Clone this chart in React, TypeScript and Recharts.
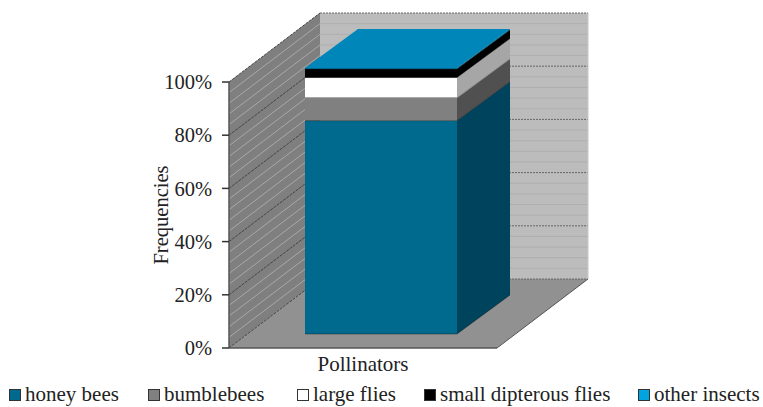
import { Bar, BarChart, Legend, XAxis, YAxis, usePlotArea } from "recharts";

const categories = ["Pollinators"];
const seriesNames = ["honey bees", "bumblebees", "large flies", "small dipterous flies", "other insects"];
const seriesValues = [80.2, 8.6, 7.6, 3.2, 0.4];
const legendColors = ["#006a8e", "#808080", "#ffffff", "#000000", "#00a5e0"];
const frontColors = ["#006a8e", "#808080", "#ffffff", "#000000", "#0078a6"];
const sideColors = ["#00435c", "#505050", "#a6a6a6", "#000000", "#005f85"];
const topColor = "#0086b8";
const majorTicks = [0, 20, 40, 60, 80, 100];
const minorTicks = [4, 8, 12, 16, 24, 28, 32, 36, 44, 48, 52, 56, 64, 68, 72, 76, 84, 88, 92, 96];
const legendLefts = [9, 148, 297, 424, 638];

const FONT = "'Liberation Serif', serif";
const TEXT = "#222222";

// Oblique projection of the box: how far the back wall sits from the axis plane,
// where the bar's front face sits, and how deep the bar is.
const WALL_DX = 91;
const WALL_DY = 69;
const BAR_DX = 18;
const BAR_DY = 14;
const DEPTH_X = 53;
const DEPTH_Y = 39;

const chartData = categories.map((name) => {
  const row: Record<string, string | number> = { name };
  seriesNames.forEach((s, i) => {
    row[s] = seriesValues[i];
  });
  return row;
});

const pts = (list: number[][]) => list.map((p) => p.join(",")).join(" ");

function Walls() {
  const plot = usePlotArea();
  if (!plot) return null;
  const left = plot.x;
  const right = plot.x + plot.width;
  const bottom = plot.y + plot.height;
  const top = plot.y;
  const yOf = (v: number) => bottom - (plot.height * v) / 100;

  return (
    <g>
      <polygon
        points={pts([[left + WALL_DX, top - WALL_DY], [right + WALL_DX, top - WALL_DY], [right + WALL_DX, bottom - WALL_DY], [left + WALL_DX, bottom - WALL_DY]])}
        fill="#bcbcbc"
      />
      <polygon
        points={pts([[left, top], [left + WALL_DX, top - WALL_DY], [left + WALL_DX, bottom - WALL_DY], [left, bottom]])}
        fill="#7f7f7f"
      />
      <polygon
        points={pts([[left, bottom], [left + WALL_DX, bottom - WALL_DY], [right + WALL_DX, bottom - WALL_DY], [right, bottom]])}
        fill="#919191"
      />
      {minorTicks.map((v) => (
        <g key={v}>
          <line x1={left} y1={yOf(v)} x2={left + WALL_DX} y2={yOf(v) - WALL_DY} stroke="#a9a9a9" />
          <line x1={left + WALL_DX} y1={yOf(v) - WALL_DY} x2={right + WALL_DX} y2={yOf(v) - WALL_DY} stroke="#afafaf" />
        </g>
      ))}
      {majorTicks.map((v) => (
        <g key={v}>
          <line x1={left} y1={yOf(v)} x2={left + WALL_DX} y2={yOf(v) - WALL_DY} stroke="#444444" strokeDasharray="3 1" />
          <line x1={left + WALL_DX} y1={yOf(v) - WALL_DY} x2={right + WALL_DX} y2={yOf(v) - WALL_DY} stroke="#666666" strokeDasharray="2 1" />
        </g>
      ))}
      <line x1={right + WALL_DX} y1={top - WALL_DY} x2={right + WALL_DX} y2={bottom - WALL_DY} stroke="#c8c8c8" />
      <line x1={left} y1={bottom} x2={right} y2={bottom} stroke="#555555" strokeWidth={1.5} />
      <line x1={right} y1={bottom} x2={right + WALL_DX} y2={bottom - WALL_DY} stroke="#555555" />
    </g>
  );
}

// Stacked segment drawn as a front face, a receding side face and, on the last series, a lid.
function BoxSegment(props: any) {
  const { width: w, height: h, seriesIndex } = props;
  const x = props.x + BAR_DX;
  const y = props.y - BAR_DY;
  const isLast = seriesIndex === seriesNames.length - 1;
  const edge = seriesIndex === 2 ? "#8a8a8a" : "#00000055";
  return (
    <g>
      <polygon
        points={pts([[x + w, y], [x + w + DEPTH_X, y - DEPTH_Y], [x + w + DEPTH_X, y + h - DEPTH_Y], [x + w, y + h]])}
        fill={sideColors[seriesIndex]}
      />
      <rect x={x} y={y} width={w} height={h} fill={frontColors[seriesIndex]} />
      <line x1={x} y1={y + h} x2={x + w} y2={y + h} stroke={edge} />
      <line x1={x + w} y1={y + h} x2={x + w + DEPTH_X} y2={y + h - DEPTH_Y} stroke={edge} />
      {isLast ? (
        <polygon
          points={pts([[x, y], [x + w, y], [x + w + DEPTH_X, y - DEPTH_Y], [x + DEPTH_X, y - DEPTH_Y]])}
          fill={topColor}
        />
      ) : null}
    </g>
  );
}

function LegendRow({ payload }: any) {
  return (
    <div style={{ position: "relative", height: 26, fontFamily: FONT, fontSize: 21, color: TEXT }}>
      {(payload ?? []).map((item: any, i: number) => (
        <div key={item.value} style={{ position: "absolute", left: legendLefts[i], top: 4, display: "flex", alignItems: "center", whiteSpace: "nowrap" }}>
          <span style={{ width: 10, height: 10, flexShrink: 0, marginRight: 4, background: item.color, border: "1.5px solid #333", display: "inline-block" }} />
          {item.value}
        </div>
      ))}
    </div>
  );
}

export default function App() {
  return (
    <div style={{ position: "absolute", left: 0, top: 0, width: 763, height: 407, background: "#fff" }}>
      <BarChart
        width={763}
        height={407}
        data={chartData}
        margin={{ top: 82, right: 266, bottom: 3, left: 169 }}
      >
        <Walls />
        <XAxis
          dataKey="name"
          axisLine={false}
          tickLine={false}
          height={30}
          tickMargin={2}
          tick={{ fontFamily: FONT, fontSize: 21, fill: TEXT }}
        />
        <YAxis
          width={60}
          domain={[0, 100]}
          ticks={majorTicks}
          tickFormatter={(v: number) => `${v}%`}
          axisLine={{ stroke: "#555555", strokeWidth: 1.5 }}
          tickLine={{ stroke: "#333333", strokeWidth: 1.5 }}
          tickSize={7}
          tickMargin={10}
          tick={{ fontFamily: FONT, fontSize: 20.5, fill: TEXT }}
          label={{
            value: "Frequencies",
            angle: -90,
            position: "insideLeft",
            offset: -8,
            style: { fontFamily: FONT, fontSize: 20.5, fill: TEXT, textAnchor: "middle" },
          }}
        />
        <Legend
          content={<LegendRow />}
          verticalAlign="bottom"
          height={26}
          width={763}
          itemSorter={null}
          wrapperStyle={{ left: 0, width: 763 }}
        />
        {seriesNames.map((s, i) => (
          <Bar
            key={s}
            dataKey={s}
            stackId="freq"
            barSize={152}
            fill={legendColors[i]}
            isAnimationActive={false}
            shape={(p: any) => <BoxSegment {...p} seriesIndex={i} />}
          />
        ))}
      </BarChart>
    </div>
  );
}
